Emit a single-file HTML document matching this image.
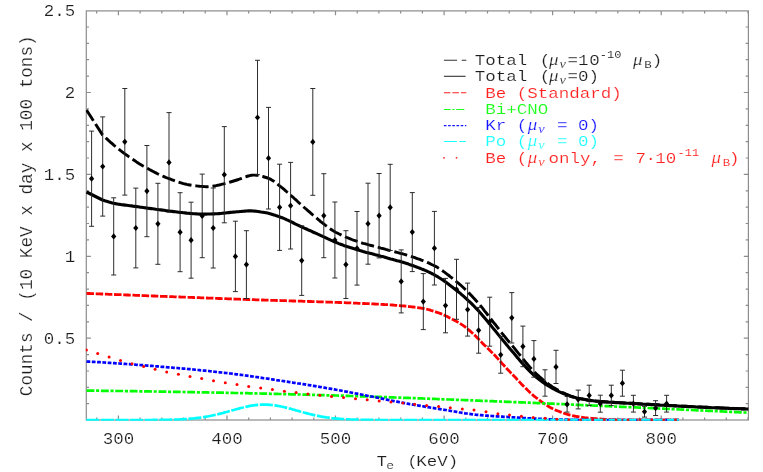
<!DOCTYPE html>
<html><head><meta charset="utf-8"><title>chart</title>
<style>html,body{margin:0;padding:0;background:#fff}svg{display:block}</style>
</head><body>
<svg width="763" height="472" viewBox="0 0 763 472">
<rect width="763" height="472" fill="#fff"/>
<g stroke="#8c8c8c" stroke-width="1.2" fill="none">
<rect x="86.3" y="10.9" width="662.1" height="409.1"/>
<path d="M96.7 420.0 v-2.6 M96.7 10.9 v2.6"/>
<path d="M118.4 420.0 v-4.4 M118.4 10.9 v4.4"/>
<path d="M140.1 420.0 v-2.6 M140.1 10.9 v2.6"/>
<path d="M161.8 420.0 v-2.6 M161.8 10.9 v2.6"/>
<path d="M183.5 420.0 v-2.6 M183.5 10.9 v2.6"/>
<path d="M205.2 420.0 v-2.6 M205.2 10.9 v2.6"/>
<path d="M227.0 420.0 v-4.4 M227.0 10.9 v4.4"/>
<path d="M248.7 420.0 v-2.6 M248.7 10.9 v2.6"/>
<path d="M270.4 420.0 v-2.6 M270.4 10.9 v2.6"/>
<path d="M292.1 420.0 v-2.6 M292.1 10.9 v2.6"/>
<path d="M313.8 420.0 v-2.6 M313.8 10.9 v2.6"/>
<path d="M335.5 420.0 v-4.4 M335.5 10.9 v4.4"/>
<path d="M357.2 420.0 v-2.6 M357.2 10.9 v2.6"/>
<path d="M378.9 420.0 v-2.6 M378.9 10.9 v2.6"/>
<path d="M400.7 420.0 v-2.6 M400.7 10.9 v2.6"/>
<path d="M422.4 420.0 v-2.6 M422.4 10.9 v2.6"/>
<path d="M444.1 420.0 v-4.4 M444.1 10.9 v4.4"/>
<path d="M465.8 420.0 v-2.6 M465.8 10.9 v2.6"/>
<path d="M487.5 420.0 v-2.6 M487.5 10.9 v2.6"/>
<path d="M509.2 420.0 v-2.6 M509.2 10.9 v2.6"/>
<path d="M530.9 420.0 v-2.6 M530.9 10.9 v2.6"/>
<path d="M552.6 420.0 v-4.4 M552.6 10.9 v4.4"/>
<path d="M574.4 420.0 v-2.6 M574.4 10.9 v2.6"/>
<path d="M596.1 420.0 v-2.6 M596.1 10.9 v2.6"/>
<path d="M617.8 420.0 v-2.6 M617.8 10.9 v2.6"/>
<path d="M639.5 420.0 v-2.6 M639.5 10.9 v2.6"/>
<path d="M661.2 420.0 v-4.4 M661.2 10.9 v4.4"/>
<path d="M682.9 420.0 v-2.6 M682.9 10.9 v2.6"/>
<path d="M704.6 420.0 v-2.6 M704.6 10.9 v2.6"/>
<path d="M726.3 420.0 v-2.6 M726.3 10.9 v2.6"/>
<path d="M748.0 420.0 v-2.6 M748.0 10.9 v2.6"/>
<path d="M86.3 403.7 h2.7 M748.4 403.7 h-2.7"/>
<path d="M86.3 387.3 h2.7 M748.4 387.3 h-2.7"/>
<path d="M86.3 371.0 h2.7 M748.4 371.0 h-2.7"/>
<path d="M86.3 354.6 h2.7 M748.4 354.6 h-2.7"/>
<path d="M86.3 338.2 h4.6 M748.4 338.2 h-4.6"/>
<path d="M86.3 321.8 h2.7 M748.4 321.8 h-2.7"/>
<path d="M86.3 305.4 h2.7 M748.4 305.4 h-2.7"/>
<path d="M86.3 289.1 h2.7 M748.4 289.1 h-2.7"/>
<path d="M86.3 272.7 h2.7 M748.4 272.7 h-2.7"/>
<path d="M86.3 256.3 h4.6 M748.4 256.3 h-4.6"/>
<path d="M86.3 239.9 h2.7 M748.4 239.9 h-2.7"/>
<path d="M86.3 223.5 h2.7 M748.4 223.5 h-2.7"/>
<path d="M86.3 207.2 h2.7 M748.4 207.2 h-2.7"/>
<path d="M86.3 190.8 h2.7 M748.4 190.8 h-2.7"/>
<path d="M86.3 174.4 h4.6 M748.4 174.4 h-4.6"/>
<path d="M86.3 158.0 h2.7 M748.4 158.0 h-2.7"/>
<path d="M86.3 141.6 h2.7 M748.4 141.6 h-2.7"/>
<path d="M86.3 125.3 h2.7 M748.4 125.3 h-2.7"/>
<path d="M86.3 108.9 h2.7 M748.4 108.9 h-2.7"/>
<path d="M86.3 92.5 h4.6 M748.4 92.5 h-4.6"/>
<path d="M86.3 76.1 h2.7 M748.4 76.1 h-2.7"/>
<path d="M86.3 59.7 h2.7 M748.4 59.7 h-2.7"/>
<path d="M86.3 43.4 h2.7 M748.4 43.4 h-2.7"/>
<path d="M86.3 27.0 h2.7 M748.4 27.0 h-2.7"/>
</g>
<defs><clipPath id="c"><rect x="85.8" y="10.9" width="663.1" height="409.9"/></clipPath></defs>
<g clip-path="url(#c)">
<path d="M86.5 110.0 L102.5 134.9 L104.1 136.4 L105.7 137.9 L107.4 139.4 L109.0 140.9 L110.6 142.3 L112.2 143.7 L113.8 145.1 L115.5 146.5 L117.1 147.8 L118.7 149.1 L120.3 150.4 L121.9 151.6 L123.5 152.9 L125.2 154.1 L126.8 155.2 L128.4 156.4 L130.0 157.5 L131.6 158.6 L133.3 159.7 L134.9 160.8 L136.5 161.9 L138.1 162.9 L139.7 163.9 L141.4 164.9 L143.0 165.9 L144.6 166.8 L146.2 167.7 L147.8 168.6 L149.4 169.5 L151.1 170.4 L152.7 171.2 L154.3 172.1 L155.9 172.9 L157.5 173.7 L159.2 174.5 L160.8 175.2 L162.4 176.0 L164.0 176.7 L165.6 177.4 L167.3 178.0 L168.9 178.6 L170.5 179.2 L172.1 179.8 L173.7 180.4 L175.3 181.0 L177.0 181.5 L178.6 182.1 L180.2 182.6 L181.8 183.1 L183.4 183.6 L185.1 184.0 L186.7 184.4 L188.3 184.7 L189.9 185.0 L191.5 185.3 L193.2 185.5 L194.8 185.7 L196.4 185.9 L198.0 186.1 L199.6 186.3 L201.2 186.4 L202.9 186.5 L204.5 186.6 L206.1 186.7 L207.7 186.7 L209.3 186.6 L211.0 186.5 L212.6 186.3 L214.2 186.0 L215.8 185.7 L217.4 185.3 L219.1 185.0 L220.7 184.6 L222.3 184.2 L223.9 183.8 L225.5 183.4 L227.1 183.0 L228.8 182.5 L230.4 182.0 L232.0 181.5 L233.6 181.0 L235.2 180.5 L236.9 180.0 L238.5 179.5 L240.1 178.9 L241.7 178.3 L243.3 177.7 L245.0 177.0 L246.6 176.5 L248.2 176.0 L249.8 175.6 L251.4 175.3 L253.0 175.1 L254.7 175.1 L256.3 175.2 L257.9 175.4 L259.5 175.7 L261.1 176.1 L262.8 176.5 L264.4 177.0 L266.0 177.5 L267.6 178.0 L269.2 178.6 L270.9 179.4 L272.5 180.4 L274.1 181.5 L275.7 182.8 L277.3 184.1 L278.9 185.3 L280.6 186.6 L282.2 187.9 L283.8 189.2 L285.4 190.6 L287.0 192.0 L288.7 193.4 L290.3 194.9 L291.9 196.3 L293.5 197.7 L295.1 199.2 L296.8 200.7 L298.4 202.2 L300.0 203.7 L301.6 205.1 L303.2 206.5 L304.8 208.0 L306.5 209.4 L308.1 210.8 L309.7 212.2 L311.3 213.6 L312.9 215.0 L314.6 216.4 L316.2 217.7 L317.8 219.1 L319.4 220.5 L321.0 221.8 L322.7 223.1 L324.3 224.3 L325.9 225.6 L327.5 226.8 L329.1 228.0 L330.8 229.2 L332.4 230.3 L334.0 231.3 L335.6 232.2 L337.2 233.0 L338.8 233.8 L340.5 234.6 L342.1 235.4 L343.7 236.1 L345.3 236.9 L346.9 237.5 L348.6 238.2 L350.2 238.8 L351.8 239.5 L353.4 240.1 L355.0 240.6 L356.7 241.2 L358.3 241.8 L359.9 242.3 L361.5 242.8 L363.1 243.3 L364.7 243.7 L366.4 244.2 L368.0 244.7 L369.6 245.1 L371.2 245.5 L372.8 245.9 L374.5 246.4 L376.1 246.8 L377.7 247.2 L379.3 247.6 L380.9 248.1 L382.6 248.5 L384.2 248.9 L385.8 249.4 L387.4 249.8 L389.0 250.3 L390.6 250.7 L392.3 251.1 L393.9 251.6 L395.5 252.0 L397.1 252.4 L398.7 252.8 L400.4 253.3 L402.0 253.7 L403.6 254.2 L405.2 254.6 L406.8 255.1 L408.5 255.6 L410.1 256.1 L411.7 256.6 L413.3 257.2 L414.9 257.7 L416.5 258.3 L418.2 258.9 L419.8 259.4 L421.4 260.1 L423.0 260.7 L424.6 261.3 L426.3 262.0 L427.9 262.7 L429.5 263.4 L431.1 264.2 L432.7 265.0 L434.4 265.8 L436.0 266.6 L437.6 267.6 L439.2 268.6 L440.8 269.6 L442.4 270.7 L444.1 271.9 L445.7 273.1 L447.3 274.3 L448.9 275.5 L450.5 276.8 L452.2 278.1 L453.8 279.4 L455.4 280.7 L457.0 282.1 L458.6 283.4 L460.3 284.8 L461.9 286.3 L463.5 287.8 L465.1 289.3 L466.7 290.8 L468.3 292.4 L470.0 294.1 L471.6 295.7 L473.2 297.5 L474.8 299.2 L476.4 301.0 L478.1 302.8 L479.7 304.7 L481.3 306.7 L482.9 308.7 L484.5 310.8 L486.2 312.9 L487.8 315.0 L489.4 317.1 L491.0 319.1 L492.6 321.2 L494.2 323.3 L495.9 325.3 L497.5 327.4 L499.1 329.5 L500.7 331.5 L502.3 333.6 L504.0 335.6 L505.6 337.6 L507.2 339.6 L508.8 341.5 L510.4 343.5 L512.1 345.4 L513.7 347.4 L515.3 349.4 L516.9 351.4 L518.5 353.4 L520.1 355.3 L521.8 357.3 L523.4 359.3 L525.0 361.3 L526.6 363.3 L528.2 365.2 L529.9 367.2 L531.5 369.0 L533.1 370.7 L534.7 372.3 L536.3 373.8 L538.0 375.3 L539.6 376.8 L541.2 378.2 L542.8 379.6 L544.4 381.0 L546.1 382.3 L547.7 383.5 L549.3 384.7 L550.9 385.8 L552.5 386.9 L554.1 387.9 L555.8 388.8 L557.4 389.7 L559.0 390.6 L560.6 391.4 L562.2 392.3 L563.9 393.0 L565.5 393.8 L567.1 394.5 L568.7 395.2 L570.3 395.8 L572.0 396.3 L573.6 396.8 L575.2 397.3 L576.8 397.7 L578.4 398.1 L580.0 398.4 L581.7 398.8 L583.3 399.1 L584.9 399.4 L586.5 399.7 L588.1 400.0 L589.8 400.2 L591.4 400.4 L593.0 400.6 L594.6 400.8 L596.2 401.0 L597.9 401.1 L599.5 401.3 L601.1 401.4 L602.7 401.5 L604.3 401.7 L605.9 401.8 L607.6 401.9 L609.2 402.0 L610.8 402.1 L612.4 402.2 L614.0 402.3 L615.7 402.4 L617.3 402.5 L618.9 402.6 L620.5 402.7 L622.1 402.8 L623.8 402.9 L625.4 402.9 L627.0 403.0 L628.6 403.1 L630.2 403.2 L631.8 403.3 L633.5 403.4 L635.1 403.5 L636.7 403.6 L638.3 403.7 L639.9 403.8 L641.6 403.9 L643.2 404.0 L644.8 404.1 L646.4 404.2 L648.0 404.2 L649.7 404.3 L651.3 404.4 L652.9 404.5 L654.5 404.6 L656.1 404.7 L657.7 404.8 L659.4 404.9 L661.0 405.0 L662.6 405.1 L664.2 405.1 L665.8 405.2 L667.5 405.3 L669.1 405.4 L670.7 405.5 L672.3 405.6 L673.9 405.7 L675.6 405.7 L677.2 405.8 L678.8 405.9 L680.4 406.0 L682.0 406.1 L683.6 406.2 L685.3 406.2 L686.9 406.3 L688.5 406.4 L690.1 406.5 L691.7 406.6 L693.4 406.6 L695.0 406.7 L696.6 406.8 L698.2 406.9 L699.8 406.9 L701.5 407.0 L703.1 407.1 L704.7 407.2 L706.3 407.2 L707.9 407.3 L709.5 407.4 L711.2 407.5 L712.8 407.5 L714.4 407.6 L716.0 407.7 L717.6 407.7 L719.3 407.8 L720.9 407.9 L722.5 407.9 L724.1 408.0 L725.7 408.1 L727.4 408.1 L729.0 408.2 L730.6 408.3 L732.2 408.3 L733.8 408.4 L735.4 408.4 L737.1 408.5 L738.7 408.6 L740.3 408.6 L741.9 408.7 L743.5 408.7 L745.2 408.8 L746.8 408.8 L748.4 408.9" fill="none" stroke="#000" stroke-width="2.9" stroke-dasharray="13.3 3.9" stroke-dashoffset="0.5" stroke-linejoin="round"/>
<path d="M86.5 192.0 L102.5 200.0 L104.1 200.5 L105.7 201.1 L107.4 201.6 L109.0 202.1 L110.6 202.5 L112.2 202.9 L113.8 203.3 L115.5 203.6 L117.1 203.9 L118.7 204.2 L120.3 204.4 L121.9 204.7 L123.5 204.9 L125.2 205.1 L126.8 205.3 L128.4 205.5 L130.0 205.7 L131.6 205.9 L133.3 206.2 L134.9 206.4 L136.5 206.6 L138.1 206.8 L139.7 207.1 L141.4 207.3 L143.0 207.5 L144.6 207.7 L146.2 207.9 L147.8 208.2 L149.4 208.4 L151.1 208.6 L152.7 208.8 L154.3 209.0 L155.9 209.3 L157.5 209.5 L159.2 209.7 L160.8 209.9 L162.4 210.1 L164.0 210.3 L165.6 210.6 L167.3 210.8 L168.9 211.0 L170.5 211.2 L172.1 211.4 L173.7 211.6 L175.3 211.8 L177.0 212.0 L178.6 212.2 L180.2 212.4 L181.8 212.5 L183.4 212.7 L185.1 212.9 L186.7 213.1 L188.3 213.2 L189.9 213.4 L191.5 213.5 L193.2 213.7 L194.8 213.8 L196.4 213.9 L198.0 214.0 L199.6 214.1 L201.2 214.1 L202.9 214.1 L204.5 214.1 L206.1 214.1 L207.7 214.0 L209.3 214.0 L211.0 214.0 L212.6 213.9 L214.2 213.9 L215.8 213.8 L217.4 213.7 L219.1 213.6 L220.7 213.5 L222.3 213.3 L223.9 213.1 L225.5 213.0 L227.1 212.8 L228.8 212.6 L230.4 212.4 L232.0 212.3 L233.6 212.1 L235.2 212.0 L236.9 211.8 L238.5 211.7 L240.1 211.5 L241.7 211.4 L243.3 211.2 L245.0 211.1 L246.6 211.0 L248.2 210.9 L249.8 210.9 L251.4 210.9 L253.0 211.0 L254.7 211.1 L256.3 211.3 L257.9 211.5 L259.5 211.7 L261.1 212.0 L262.8 212.2 L264.4 212.5 L266.0 212.8 L267.6 213.1 L269.2 213.5 L270.9 213.9 L272.5 214.4 L274.1 214.9 L275.7 215.5 L277.3 216.0 L278.9 216.6 L280.6 217.2 L282.2 217.8 L283.8 218.4 L285.4 219.1 L287.0 219.9 L288.7 220.6 L290.3 221.4 L291.9 222.2 L293.5 223.0 L295.1 223.8 L296.8 224.6 L298.4 225.3 L300.0 226.1 L301.6 226.9 L303.2 227.6 L304.8 228.3 L306.5 229.0 L308.1 229.8 L309.7 230.5 L311.3 231.2 L312.9 232.0 L314.6 232.7 L316.2 233.4 L317.8 234.2 L319.4 234.9 L321.0 235.6 L322.7 236.4 L324.3 237.1 L325.9 237.9 L327.5 238.7 L329.1 239.4 L330.8 240.2 L332.4 240.9 L334.0 241.6 L335.6 242.3 L337.2 242.9 L338.8 243.6 L340.5 244.2 L342.1 244.8 L343.7 245.4 L345.3 245.9 L346.9 246.5 L348.6 247.0 L350.2 247.6 L351.8 248.1 L353.4 248.6 L355.0 249.1 L356.7 249.6 L358.3 250.1 L359.9 250.6 L361.5 251.0 L363.1 251.5 L364.7 251.9 L366.4 252.4 L368.0 252.8 L369.6 253.2 L371.2 253.6 L372.8 254.0 L374.5 254.5 L376.1 254.9 L377.7 255.3 L379.3 255.7 L380.9 256.2 L382.6 256.6 L384.2 257.0 L385.8 257.5 L387.4 258.0 L389.0 258.4 L390.6 258.9 L392.3 259.3 L393.9 259.8 L395.5 260.2 L397.1 260.7 L398.7 261.1 L400.4 261.6 L402.0 262.1 L403.6 262.6 L405.2 263.1 L406.8 263.6 L408.5 264.1 L410.1 264.7 L411.7 265.2 L413.3 265.8 L414.9 266.4 L416.5 267.0 L418.2 267.6 L419.8 268.2 L421.4 268.9 L423.0 269.5 L424.6 270.2 L426.3 270.9 L427.9 271.7 L429.5 272.4 L431.1 273.2 L432.7 274.0 L434.4 274.9 L436.0 275.8 L437.6 276.7 L439.2 277.7 L440.8 278.7 L442.4 279.8 L444.1 280.9 L445.7 282.1 L447.3 283.3 L448.9 284.5 L450.5 285.7 L452.2 287.0 L453.8 288.2 L455.4 289.5 L457.0 290.7 L458.6 292.0 L460.3 293.4 L461.9 294.8 L463.5 296.2 L465.1 297.6 L466.7 299.1 L468.3 300.6 L470.0 302.1 L471.6 303.7 L473.2 305.3 L474.8 307.0 L476.4 308.7 L478.1 310.4 L479.7 312.2 L481.3 314.0 L482.9 315.9 L484.5 317.8 L486.2 319.8 L487.8 321.7 L489.4 323.7 L491.0 325.6 L492.6 327.6 L494.2 329.6 L495.9 331.6 L497.5 333.6 L499.1 335.6 L500.7 337.6 L502.3 339.6 L504.0 341.6 L505.6 343.5 L507.2 345.4 L508.8 347.4 L510.4 349.3 L512.1 351.2 L513.7 353.1 L515.3 355.0 L516.9 356.9 L518.5 358.8 L520.1 360.7 L521.8 362.6 L523.4 364.4 L525.0 366.1 L526.6 367.9 L528.2 369.6 L529.9 371.3 L531.5 372.9 L533.1 374.5 L534.7 375.9 L536.3 377.2 L538.0 378.5 L539.6 379.8 L541.2 381.0 L542.8 382.2 L544.4 383.3 L546.1 384.4 L547.7 385.5 L549.3 386.5 L550.9 387.4 L552.5 388.3 L554.1 389.2 L555.8 390.0 L557.4 390.8 L559.0 391.6 L560.6 392.3 L562.2 393.0 L563.9 393.7 L565.5 394.4 L567.1 395.0 L568.7 395.6 L570.3 396.2 L572.0 396.7 L573.6 397.2 L575.2 397.6 L576.8 398.0 L578.4 398.3 L580.0 398.7 L581.7 399.0 L583.3 399.3 L584.9 399.6 L586.5 399.9 L588.1 400.2 L589.8 400.4 L591.4 400.6 L593.0 400.8 L594.6 401.0 L596.2 401.2 L597.9 401.3 L599.5 401.5 L601.1 401.6 L602.7 401.7 L604.3 401.9 L605.9 402.0 L607.6 402.1 L609.2 402.2 L610.8 402.3 L612.4 402.4 L614.0 402.5 L615.7 402.6 L617.3 402.7 L618.9 402.8 L620.5 402.9 L622.1 403.0 L623.8 403.1 L625.4 403.1 L627.0 403.2 L628.6 403.3 L630.2 403.4 L631.8 403.5 L633.5 403.6 L635.1 403.7 L636.7 403.8 L638.3 403.9 L639.9 404.0 L641.6 404.1 L643.2 404.2 L644.8 404.3 L646.4 404.4 L648.0 404.4 L649.7 404.5 L651.3 404.6 L652.9 404.7 L654.5 404.8 L656.1 404.9 L657.7 405.0 L659.4 405.1 L661.0 405.2 L662.6 405.3 L664.2 405.3 L665.8 405.4 L667.5 405.5 L669.1 405.6 L670.7 405.7 L672.3 405.8 L673.9 405.9 L675.6 405.9 L677.2 406.0 L678.8 406.1 L680.4 406.2 L682.0 406.3 L683.6 406.4 L685.3 406.4 L686.9 406.5 L688.5 406.6 L690.1 406.7 L691.7 406.8 L693.4 406.8 L695.0 406.9 L696.6 407.0 L698.2 407.1 L699.8 407.1 L701.5 407.2 L703.1 407.3 L704.7 407.4 L706.3 407.4 L707.9 407.5 L709.5 407.6 L711.2 407.7 L712.8 407.7 L714.4 407.8 L716.0 407.9 L717.6 407.9 L719.3 408.0 L720.9 408.1 L722.5 408.1 L724.1 408.2 L725.7 408.3 L727.4 408.3 L729.0 408.4 L730.6 408.5 L732.2 408.5 L733.8 408.6 L735.4 408.6 L737.1 408.7 L738.7 408.8 L740.3 408.8 L741.9 408.9 L743.5 408.9 L745.2 409.0 L746.8 409.0 L748.4 409.1" fill="none" stroke="#000" stroke-width="3.1" stroke-linejoin="round"/>
<path d="M86.5 293.4 L88.0 293.5 L89.5 293.5 L91.0 293.6 L92.4 293.6 L93.9 293.7 L95.4 293.7 L96.9 293.8 L98.4 293.9 L99.9 293.9 L101.3 294.0 L102.8 294.0 L104.3 294.1 L105.8 294.1 L107.3 294.2 L108.8 294.3 L110.3 294.3 L111.7 294.4 L113.2 294.4 L114.7 294.5 L116.2 294.6 L117.7 294.6 L119.2 294.7 L120.7 294.7 L122.1 294.8 L123.6 294.8 L125.1 294.9 L126.6 295.0 L128.1 295.0 L129.6 295.1 L131.0 295.1 L132.5 295.2 L134.0 295.2 L135.5 295.3 L137.0 295.4 L138.5 295.4 L140.0 295.5 L141.4 295.5 L142.9 295.6 L144.4 295.6 L145.9 295.7 L147.4 295.8 L148.9 295.8 L150.4 295.9 L151.8 295.9 L153.3 296.0 L154.8 296.0 L156.3 296.1 L157.8 296.1 L159.3 296.2 L160.7 296.3 L162.2 296.3 L163.7 296.4 L165.2 296.4 L166.7 296.5 L168.2 296.5 L169.7 296.6 L171.1 296.7 L172.6 296.7 L174.1 296.8 L175.6 296.8 L177.1 296.9 L178.6 296.9 L180.1 297.0 L181.5 297.1 L183.0 297.1 L184.5 297.2 L186.0 297.2 L187.5 297.3 L189.0 297.3 L190.4 297.4 L191.9 297.4 L193.4 297.5 L194.9 297.6 L196.4 297.6 L197.9 297.7 L199.4 297.7 L200.8 297.8 L202.3 297.8 L203.8 297.9 L205.3 297.9 L206.8 298.0 L208.3 298.1 L209.8 298.1 L211.2 298.2 L212.7 298.2 L214.2 298.3 L215.7 298.3 L217.2 298.4 L218.7 298.5 L220.1 298.5 L221.6 298.6 L223.1 298.6 L224.6 298.7 L226.1 298.7 L227.6 298.8 L229.1 298.8 L230.5 298.9 L232.0 299.0 L233.5 299.0 L235.0 299.1 L236.5 299.1 L238.0 299.2 L239.5 299.2 L240.9 299.3 L242.4 299.3 L243.9 299.4 L245.4 299.4 L246.9 299.5 L248.4 299.5 L249.8 299.6 L251.3 299.6 L252.8 299.7 L254.3 299.7 L255.8 299.8 L257.3 299.8 L258.8 299.9 L260.2 299.9 L261.7 300.0 L263.2 300.0 L264.7 300.1 L266.2 300.1 L267.7 300.2 L269.2 300.2 L270.6 300.3 L272.1 300.3 L273.6 300.4 L275.1 300.4 L276.6 300.5 L278.1 300.5 L279.5 300.5 L281.0 300.6 L282.5 300.6 L284.0 300.7 L285.5 300.7 L287.0 300.8 L288.5 300.8 L289.9 300.9 L291.4 300.9 L292.9 301.0 L294.4 301.0 L295.9 301.1 L297.4 301.1 L298.8 301.1 L300.3 301.2 L301.8 301.2 L303.3 301.3 L304.8 301.3 L306.3 301.4 L307.8 301.4 L309.2 301.5 L310.7 301.5 L312.2 301.6 L313.7 301.6 L315.2 301.7 L316.7 301.7 L318.2 301.8 L319.6 301.8 L321.1 301.9 L322.6 301.9 L324.1 302.0 L325.6 302.0 L327.1 302.1 L328.5 302.1 L330.0 302.2 L331.5 302.2 L333.0 302.3 L334.5 302.3 L336.0 302.4 L337.5 302.4 L338.9 302.5 L340.4 302.5 L341.9 302.6 L343.4 302.7 L344.9 302.7 L346.4 302.8 L347.9 302.8 L349.3 302.9 L350.8 302.9 L352.3 303.0 L353.8 303.1 L355.3 303.1 L356.8 303.2 L358.2 303.3 L359.7 303.3 L361.2 303.4 L362.7 303.5 L364.2 303.5 L365.7 303.6 L367.2 303.7 L368.6 303.7 L370.1 303.8 L371.6 303.9 L373.1 303.9 L374.6 304.0 L376.1 304.1 L377.6 304.2 L379.0 304.2 L380.5 304.3 L382.0 304.4 L383.5 304.5 L385.0 304.6 L386.5 304.6 L387.9 304.7 L389.4 304.8 L390.9 304.9 L392.4 305.0 L393.9 305.1 L395.4 305.3 L396.9 305.4 L398.3 305.5 L399.8 305.6 L401.3 305.8 L402.8 305.9 L404.3 306.0 L405.8 306.2 L407.3 306.3 L408.7 306.5 L410.2 306.6 L411.7 306.8 L413.2 307.0 L414.7 307.2 L416.2 307.4 L417.6 307.6 L419.1 307.8 L420.6 308.0 L422.1 308.3 L423.6 308.5 L425.1 308.8 L426.6 309.1 L428.0 309.5 L429.5 309.9 L431.0 310.4 L432.5 310.8 L434.0 311.3 L435.5 311.8 L437.0 312.3 L438.4 312.8 L439.9 313.3 L441.4 313.9 L442.9 314.5 L444.4 315.2 L445.9 315.9 L447.3 316.6 L448.8 317.4 L450.3 318.2 L451.8 318.9 L453.3 319.7 L454.8 320.5 L456.3 321.3 L457.7 322.1 L459.2 323.0 L460.7 323.9 L462.2 324.9 L463.7 325.9 L465.2 327.0 L466.7 328.1 L468.1 329.4 L469.6 330.6 L471.1 332.0 L472.6 333.3 L474.1 334.7 L475.6 336.1 L477.0 337.5 L478.5 339.0 L480.0 340.6 L481.5 342.1 L483.0 343.7 L484.5 345.2 L486.0 346.6 L487.4 348.1 L488.9 349.5 L490.4 351.0 L491.9 352.4 L493.4 353.9 L494.9 355.4 L496.3 357.0 L497.8 358.6 L499.3 360.3 L500.8 362.0 L502.3 363.7 L503.8 365.3 L505.3 366.9 L506.7 368.5 L508.2 370.1 L509.7 371.6 L511.2 373.2 L512.7 374.7 L514.2 376.3 L515.7 377.8 L517.1 379.4 L518.6 381.0 L520.1 382.6 L521.6 384.2 L523.1 385.7 L524.6 387.2 L526.0 388.6 L527.5 390.1 L529.0 391.5 L530.5 393.0 L532.0 394.3 L533.5 395.6 L535.0 396.8 L536.4 398.0 L537.9 399.1 L539.4 400.2 L540.9 401.3 L542.4 402.4 L543.9 403.4 L545.4 404.4 L546.8 405.4 L548.3 406.3 L549.8 407.2 L551.3 408.0 L552.8 408.8 L554.3 409.5 L555.7 410.1 L557.2 410.7 L558.7 411.3 L560.2 411.9 L561.7 412.4 L563.2 413.0 L564.7 413.5 L566.1 414.0 L567.6 414.4 L569.1 414.8 L570.6 415.2 L572.1 415.6 L573.6 415.9 L575.1 416.2 L576.5 416.5 L578.0 416.7 L579.5 416.9 L581.0 417.2 L582.5 417.4 L584.0 417.6 L585.4 417.8 L586.9 417.9 L588.4 418.1 L589.9 418.2 L591.4 418.4 L592.9 418.5 L594.4 418.6 L595.8 418.7 L597.3 418.8 L598.8 418.9 L600.3 419.0 L601.8 419.1 L603.3 419.2 L604.8 419.3 L606.2 419.4 L607.7 419.4 L609.2 419.5 L610.7 419.6 L612.2 419.6 L613.7 419.7 L615.1 419.7 L616.6 419.8 L618.1 419.8 L619.6 419.8 L621.1 419.8 L622.6 419.8 L624.1 419.8 L625.5 419.8 L627.0 419.8 L628.5 419.9 L630.0 419.9 L631.5 419.9 L633.0 419.9 L634.5 419.9 L635.9 419.9 L637.4 419.9 L638.9 419.9 L640.4 419.9 L641.9 419.9 L643.4 419.9 L644.8 419.9 L646.3 419.9 L647.8 419.9 L649.3 420.0 L650.8 420.0 L652.3 420.0 L653.8 420.0 L655.2 420.0 L656.7 420.0 L658.2 420.0 L659.7 420.0 L661.2 420.0 L662.7 420.0 L664.2 420.0 L665.6 420.0 L667.1 420.0 L668.6 420.0 L670.1 420.0 L671.6 420.0 L673.1 420.0 L674.5 420.0 L676.0 420.0 L677.5 420.0 L679.0 420.0" fill="none" stroke="#ff0000" stroke-width="2.8" stroke-dasharray="7.5 1.7"/>
<path d="M86.5 390.6 L88.2 390.6 L89.8 390.6 L91.5 390.7 L93.1 390.7 L94.8 390.7 L96.5 390.7 L98.1 390.7 L99.8 390.7 L101.4 390.8 L103.1 390.8 L104.7 390.8 L106.4 390.8 L108.1 390.9 L109.7 390.9 L111.4 390.9 L113.0 390.9 L114.7 390.9 L116.4 391.0 L118.0 391.0 L119.7 391.0 L121.3 391.0 L123.0 391.0 L124.7 391.1 L126.3 391.1 L128.0 391.1 L129.6 391.1 L131.3 391.2 L132.9 391.2 L134.6 391.2 L136.3 391.2 L137.9 391.3 L139.6 391.3 L141.2 391.3 L142.9 391.3 L144.6 391.4 L146.2 391.4 L147.9 391.4 L149.5 391.4 L151.2 391.5 L152.9 391.5 L154.5 391.5 L156.2 391.5 L157.8 391.6 L159.5 391.6 L161.2 391.6 L162.8 391.7 L164.5 391.7 L166.1 391.7 L167.8 391.7 L169.4 391.8 L171.1 391.8 L172.8 391.8 L174.4 391.8 L176.1 391.9 L177.7 391.9 L179.4 391.9 L181.1 392.0 L182.7 392.0 L184.4 392.0 L186.0 392.1 L187.7 392.1 L189.4 392.1 L191.0 392.1 L192.7 392.2 L194.3 392.2 L196.0 392.2 L197.6 392.3 L199.3 392.3 L201.0 392.3 L202.6 392.4 L204.3 392.4 L205.9 392.4 L207.6 392.4 L209.3 392.5 L210.9 392.5 L212.6 392.5 L214.2 392.6 L215.9 392.6 L217.6 392.6 L219.2 392.7 L220.9 392.7 L222.5 392.7 L224.2 392.8 L225.8 392.8 L227.5 392.8 L229.2 392.9 L230.8 392.9 L232.5 392.9 L234.1 393.0 L235.8 393.0 L237.5 393.0 L239.1 393.1 L240.8 393.1 L242.4 393.1 L244.1 393.2 L245.8 393.2 L247.4 393.2 L249.1 393.3 L250.7 393.3 L252.4 393.3 L254.0 393.4 L255.7 393.4 L257.4 393.5 L259.0 393.5 L260.7 393.5 L262.3 393.6 L264.0 393.6 L265.7 393.6 L267.3 393.7 L269.0 393.7 L270.6 393.8 L272.3 393.8 L274.0 393.8 L275.6 393.9 L277.3 393.9 L278.9 394.0 L280.6 394.0 L282.2 394.0 L283.9 394.1 L285.6 394.1 L287.2 394.2 L288.9 394.2 L290.5 394.3 L292.2 394.3 L293.9 394.3 L295.5 394.4 L297.2 394.4 L298.8 394.5 L300.5 394.5 L302.2 394.6 L303.8 394.6 L305.5 394.7 L307.1 394.7 L308.8 394.7 L310.5 394.8 L312.1 394.8 L313.8 394.9 L315.4 394.9 L317.1 395.0 L318.7 395.0 L320.4 395.1 L322.1 395.1 L323.7 395.2 L325.4 395.2 L327.0 395.3 L328.7 395.3 L330.4 395.4 L332.0 395.4 L333.7 395.4 L335.3 395.5 L337.0 395.5 L338.7 395.6 L340.3 395.6 L342.0 395.7 L343.6 395.7 L345.3 395.8 L346.9 395.8 L348.6 395.9 L350.3 396.0 L351.9 396.0 L353.6 396.1 L355.2 396.1 L356.9 396.2 L358.6 396.2 L360.2 396.3 L361.9 396.3 L363.5 396.4 L365.2 396.4 L366.9 396.5 L368.5 396.5 L370.2 396.6 L371.8 396.7 L373.5 396.7 L375.1 396.8 L376.8 396.8 L378.5 396.9 L380.1 396.9 L381.8 397.0 L383.4 397.1 L385.1 397.1 L386.8 397.2 L388.4 397.2 L390.1 397.3 L391.7 397.3 L393.4 397.4 L395.1 397.5 L396.7 397.5 L398.4 397.6 L400.0 397.6 L401.7 397.7 L403.3 397.8 L405.0 397.8 L406.7 397.9 L408.3 397.9 L410.0 398.0 L411.6 398.1 L413.3 398.1 L415.0 398.2 L416.6 398.3 L418.3 398.3 L419.9 398.4 L421.6 398.4 L423.3 398.5 L424.9 398.6 L426.6 398.6 L428.2 398.7 L429.9 398.8 L431.6 398.8 L433.2 398.9 L434.9 398.9 L436.5 399.0 L438.2 399.1 L439.8 399.1 L441.5 399.2 L443.2 399.3 L444.8 399.3 L446.5 399.4 L448.1 399.5 L449.8 399.5 L451.5 399.6 L453.1 399.6 L454.8 399.7 L456.4 399.8 L458.1 399.8 L459.8 399.9 L461.4 400.0 L463.1 400.0 L464.7 400.1 L466.4 400.2 L468.0 400.2 L469.7 400.3 L471.4 400.4 L473.0 400.4 L474.7 400.5 L476.3 400.6 L478.0 400.6 L479.7 400.7 L481.3 400.8 L483.0 400.8 L484.6 400.9 L486.3 400.9 L488.0 401.0 L489.6 401.1 L491.3 401.1 L492.9 401.2 L494.6 401.3 L496.2 401.3 L497.9 401.4 L499.6 401.5 L501.2 401.6 L502.9 401.6 L504.5 401.7 L506.2 401.8 L507.9 401.8 L509.5 401.9 L511.2 402.0 L512.8 402.0 L514.5 402.1 L516.2 402.2 L517.8 402.2 L519.5 402.3 L521.1 402.4 L522.8 402.4 L524.4 402.5 L526.1 402.6 L527.8 402.7 L529.4 402.7 L531.1 402.8 L532.7 402.9 L534.4 402.9 L536.1 403.0 L537.7 403.1 L539.4 403.2 L541.0 403.2 L542.7 403.3 L544.4 403.4 L546.0 403.4 L547.7 403.5 L549.3 403.6 L551.0 403.7 L552.7 403.7 L554.3 403.8 L556.0 403.9 L557.6 404.0 L559.3 404.0 L560.9 404.1 L562.6 404.2 L564.3 404.2 L565.9 404.3 L567.6 404.4 L569.2 404.5 L570.9 404.5 L572.6 404.6 L574.2 404.7 L575.9 404.8 L577.5 404.8 L579.2 404.9 L580.9 405.0 L582.5 405.1 L584.2 405.1 L585.8 405.2 L587.5 405.3 L589.1 405.4 L590.8 405.4 L592.5 405.5 L594.1 405.6 L595.8 405.7 L597.4 405.7 L599.1 405.8 L600.8 405.9 L602.4 406.0 L604.1 406.0 L605.7 406.1 L607.4 406.2 L609.1 406.2 L610.7 406.3 L612.4 406.4 L614.0 406.5 L615.7 406.5 L617.3 406.6 L619.0 406.7 L620.7 406.8 L622.3 406.8 L624.0 406.9 L625.6 407.0 L627.3 407.1 L629.0 407.1 L630.6 407.2 L632.3 407.3 L633.9 407.4 L635.6 407.4 L637.3 407.5 L638.9 407.6 L640.6 407.7 L642.2 407.7 L643.9 407.8 L645.5 407.9 L647.2 408.0 L648.9 408.0 L650.5 408.1 L652.2 408.2 L653.8 408.3 L655.5 408.3 L657.2 408.4 L658.8 408.5 L660.5 408.6 L662.1 408.6 L663.8 408.7 L665.5 408.8 L667.1 408.9 L668.8 409.0 L670.4 409.0 L672.1 409.1 L673.7 409.2 L675.4 409.3 L677.1 409.3 L678.7 409.4 L680.4 409.5 L682.0 409.6 L683.7 409.6 L685.4 409.7 L687.0 409.8 L688.7 409.9 L690.3 410.0 L692.0 410.0 L693.7 410.1 L695.3 410.2 L697.0 410.3 L698.6 410.3 L700.3 410.4 L702.0 410.5 L703.6 410.6 L705.3 410.7 L706.9 410.7 L708.6 410.8 L710.2 410.9 L711.9 411.0 L713.6 411.0 L715.2 411.1 L716.9 411.2 L718.5 411.3 L720.2 411.4 L721.9 411.4 L723.5 411.5 L725.2 411.6 L726.8 411.7 L728.5 411.7 L730.2 411.8 L731.8 411.9 L733.5 412.0 L735.1 412.1 L736.8 412.1 L738.4 412.2 L740.1 412.3 L741.8 412.4 L743.4 412.5 L745.1 412.5 L746.7 412.6 L748.4 412.7" fill="none" stroke="#00ff00" stroke-width="2.7" stroke-dasharray="7.9 1.7 3.1 1.7"/>
<path d="M86.5 361.5 L88.0 361.6 L89.5 361.7 L91.0 361.7 L92.4 361.8 L93.9 361.9 L95.4 362.0 L96.9 362.1 L98.4 362.2 L99.9 362.2 L101.3 362.3 L102.8 362.4 L104.3 362.5 L105.8 362.6 L107.3 362.7 L108.8 362.8 L110.3 362.9 L111.7 363.0 L113.2 363.1 L114.7 363.2 L116.2 363.3 L117.7 363.4 L119.2 363.5 L120.7 363.6 L122.1 363.7 L123.6 363.8 L125.1 363.9 L126.6 364.0 L128.1 364.1 L129.6 364.2 L131.0 364.3 L132.5 364.4 L134.0 364.5 L135.5 364.7 L137.0 364.8 L138.5 364.9 L140.0 365.0 L141.4 365.1 L142.9 365.2 L144.4 365.3 L145.9 365.5 L147.4 365.6 L148.9 365.7 L150.4 365.8 L151.8 365.9 L153.3 366.0 L154.8 366.2 L156.3 366.3 L157.8 366.4 L159.3 366.5 L160.7 366.7 L162.2 366.8 L163.7 366.9 L165.2 367.0 L166.7 367.2 L168.2 367.3 L169.7 367.4 L171.1 367.5 L172.6 367.7 L174.1 367.8 L175.6 367.9 L177.1 368.0 L178.6 368.2 L180.1 368.3 L181.5 368.4 L183.0 368.6 L184.5 368.7 L186.0 368.8 L187.5 369.0 L189.0 369.1 L190.4 369.2 L191.9 369.4 L193.4 369.5 L194.9 369.7 L196.4 369.8 L197.9 370.0 L199.4 370.1 L200.8 370.3 L202.3 370.4 L203.8 370.6 L205.3 370.7 L206.8 370.9 L208.3 371.0 L209.8 371.2 L211.2 371.3 L212.7 371.5 L214.2 371.7 L215.7 371.8 L217.2 372.0 L218.7 372.2 L220.1 372.3 L221.6 372.5 L223.1 372.7 L224.6 372.8 L226.1 373.0 L227.6 373.2 L229.1 373.4 L230.5 373.5 L232.0 373.7 L233.5 373.9 L235.0 374.1 L236.5 374.3 L238.0 374.4 L239.5 374.6 L240.9 374.8 L242.4 375.0 L243.9 375.2 L245.4 375.5 L246.9 375.7 L248.4 375.9 L249.8 376.1 L251.3 376.3 L252.8 376.5 L254.3 376.8 L255.8 377.0 L257.3 377.2 L258.8 377.4 L260.2 377.6 L261.7 377.8 L263.2 378.1 L264.7 378.3 L266.2 378.5 L267.7 378.7 L269.2 378.9 L270.6 379.2 L272.1 379.4 L273.6 379.6 L275.1 379.8 L276.6 380.1 L278.1 380.3 L279.5 380.5 L281.0 380.7 L282.5 381.0 L284.0 381.2 L285.5 381.4 L287.0 381.6 L288.5 381.9 L289.9 382.1 L291.4 382.3 L292.9 382.6 L294.4 382.8 L295.9 383.0 L297.4 383.3 L298.8 383.5 L300.3 383.7 L301.8 384.0 L303.3 384.2 L304.8 384.4 L306.3 384.7 L307.8 384.9 L309.2 385.2 L310.7 385.4 L312.2 385.7 L313.7 385.9 L315.2 386.1 L316.7 386.4 L318.2 386.6 L319.6 386.9 L321.1 387.1 L322.6 387.4 L324.1 387.6 L325.6 387.9 L327.1 388.1 L328.5 388.4 L330.0 388.7 L331.5 388.9 L333.0 389.2 L334.5 389.4 L336.0 389.7 L337.5 390.0 L338.9 390.2 L340.4 390.5 L341.9 390.8 L343.4 391.1 L344.9 391.4 L346.4 391.6 L347.9 391.9 L349.3 392.2 L350.8 392.5 L352.3 392.8 L353.8 393.1 L355.3 393.4 L356.8 393.6 L358.2 393.9 L359.7 394.2 L361.2 394.5 L362.7 394.8 L364.2 395.1 L365.7 395.4 L367.2 395.7 L368.6 396.0 L370.1 396.3 L371.6 396.5 L373.1 396.8 L374.6 397.1 L376.1 397.4 L377.6 397.7 L379.0 398.0 L380.5 398.3 L382.0 398.6 L383.5 398.9 L385.0 399.3 L386.5 399.6 L387.9 399.9 L389.4 400.2 L390.9 400.5 L392.4 400.8 L393.9 401.1 L395.4 401.4 L396.9 401.6 L398.3 401.9 L399.8 402.2 L401.3 402.5 L402.8 402.8 L404.3 403.1 L405.8 403.3 L407.3 403.6 L408.7 403.9 L410.2 404.2 L411.7 404.4 L413.2 404.7 L414.7 404.9 L416.2 405.2 L417.6 405.4 L419.1 405.7 L420.6 405.9 L422.1 406.2 L423.6 406.4 L425.1 406.7 L426.6 406.9 L428.0 407.2 L429.5 407.4 L431.0 407.7 L432.5 407.9 L434.0 408.1 L435.5 408.4 L437.0 408.6 L438.4 408.9 L439.9 409.1 L441.4 409.3 L442.9 409.6 L444.4 409.8 L445.9 410.0 L447.3 410.3 L448.8 410.5 L450.3 410.8 L451.8 411.0 L453.3 411.3 L454.8 411.5 L456.3 411.8 L457.7 412.0 L459.2 412.3 L460.7 412.5 L462.2 412.8 L463.7 413.0 L465.2 413.3 L466.7 413.5 L468.1 413.7 L469.6 413.9 L471.1 414.1 L472.6 414.3 L474.1 414.5 L475.6 414.7 L477.0 414.8 L478.5 414.9 L480.0 415.1 L481.5 415.2 L483.0 415.3 L484.5 415.5 L486.0 415.6 L487.4 415.7 L488.9 415.8 L490.4 415.9 L491.9 416.0 L493.4 416.1 L494.9 416.2 L496.3 416.3 L497.8 416.4 L499.3 416.5 L500.8 416.6 L502.3 416.7 L503.8 416.8 L505.3 416.9 L506.7 416.9 L508.2 417.0 L509.7 417.1 L511.2 417.2 L512.7 417.3 L514.2 417.4 L515.7 417.5 L517.1 417.6 L518.6 417.7 L520.1 417.8 L521.6 417.9 L523.1 418.0 L524.6 418.1 L526.0 418.2 L527.5 418.3 L529.0 418.3 L530.5 418.4 L532.0 418.5 L533.5 418.6 L535.0 418.7 L536.4 418.7 L537.9 418.8 L539.4 418.9 L540.9 418.9 L542.4 419.0 L543.9 419.1 L545.4 419.1 L546.8 419.2 L548.3 419.3 L549.8 419.3 L551.3 419.4 L552.8 419.4 L554.3 419.5 L555.7 419.5 L557.2 419.5 L558.7 419.6 L560.2 419.6 L561.7 419.6 L563.2 419.7 L564.7 419.7 L566.1 419.7 L567.6 419.7 L569.1 419.7 L570.6 419.8 L572.1 419.8 L573.6 419.8 L575.1 419.8 L576.5 419.8 L578.0 419.9 L579.5 419.9 L581.0 419.9 L582.5 419.9 L584.0 419.9 L585.4 419.9 L586.9 419.9 L588.4 420.0 L589.9 420.0 L591.4 420.0 L592.9 420.0 L594.4 420.0 L595.8 420.0 L597.3 420.0 L598.8 420.0 L600.3 420.0 L601.8 420.0 L603.3 420.0 L604.8 420.0 L606.2 420.0 L607.7 420.0 L609.2 420.0 L610.7 420.0 L612.2 420.0 L613.7 420.0 L615.1 420.0 L616.6 420.0 L618.1 420.0 L619.6 420.0 L621.1 420.0 L622.6 420.0 L624.1 420.0 L625.5 420.0 L627.0 420.0 L628.5 420.0 L630.0 420.0 L631.5 420.0 L633.0 420.0 L634.5 420.0 L635.9 420.0 L637.4 420.0 L638.9 420.0 L640.4 420.0 L641.9 420.0 L643.4 420.0 L644.8 420.0 L646.3 420.0 L647.8 420.0 L649.3 420.0 L650.8 420.0 L652.3 420.0 L653.8 420.0 L655.2 420.0 L656.7 420.0 L658.2 420.0 L659.7 420.0 L661.2 420.0 L662.7 420.0 L664.2 420.0 L665.6 420.0 L667.1 420.0 L668.6 420.0 L670.1 420.0 L671.6 420.0 L673.1 420.0 L674.5 420.0 L676.0 420.0 L677.5 420.0 L679.0 420.0" fill="none" stroke="#0000ff" stroke-width="2.7" stroke-dasharray="3.8 1.5"/>
<path d="M86.3 420.0 L87.5 420.0 L88.7 420.0 L89.9 420.0 L91.1 420.0 L92.2 420.0 L93.4 420.0 L94.6 420.0 L95.8 420.0 L97.0 420.0 L98.2 420.0 L99.4 420.0 L100.6 420.0 L101.7 420.0 L102.9 420.0 L104.1 420.0 L105.3 420.0 L106.5 420.0 L107.7 420.0 L108.9 420.0 L110.1 420.0 L111.2 420.0 L112.4 420.0 L113.6 420.0 L114.8 420.0 L116.0 420.0 L117.2 420.0 L118.4 420.0 L119.6 420.0 L120.7 420.0 L121.9 420.0 L123.1 420.0 L124.3 420.0 L125.5 420.0 L126.7 420.0 L127.9 420.0 L129.1 420.0 L130.2 420.0 L131.4 420.0 L132.6 420.0 L133.8 420.0 L135.0 420.0 L136.2 420.0 L137.4 420.0 L138.6 420.0 L139.7 420.0 L140.9 420.0 L142.1 420.0 L143.3 420.0 L144.5 420.0 L145.7 420.0 L146.9 420.0 L148.1 420.0 L149.3 420.0 L150.4 420.0 L151.6 420.0 L152.8 419.9 L154.0 419.9 L155.2 419.9 L156.4 419.9 L157.6 419.9 L158.8 419.9 L159.9 419.9 L161.1 419.9 L162.3 419.9 L163.5 419.9 L164.7 419.8 L165.9 419.8 L167.1 419.8 L168.3 419.8 L169.4 419.8 L170.6 419.7 L171.8 419.7 L173.0 419.7 L174.2 419.6 L175.4 419.6 L176.6 419.5 L177.8 419.5 L178.9 419.5 L180.1 419.4 L181.3 419.3 L182.5 419.3 L183.7 419.2 L184.9 419.1 L186.1 419.1 L187.3 419.0 L188.4 418.9 L189.6 418.8 L190.8 418.7 L192.0 418.6 L193.2 418.5 L194.4 418.4 L195.6 418.2 L196.8 418.1 L198.0 417.9 L199.1 417.8 L200.3 417.6 L201.5 417.5 L202.7 417.3 L203.9 417.1 L205.1 416.9 L206.3 416.7 L207.5 416.5 L208.6 416.3 L209.8 416.0 L211.0 415.8 L212.2 415.5 L213.4 415.3 L214.6 415.0 L215.8 414.8 L217.0 414.5 L218.1 414.2 L219.3 413.9 L220.5 413.6 L221.7 413.3 L222.9 413.0 L224.1 412.6 L225.3 412.3 L226.5 412.0 L227.6 411.7 L228.8 411.3 L230.0 411.0 L231.2 410.7 L232.4 410.3 L233.6 410.0 L234.8 409.7 L236.0 409.3 L237.1 409.0 L238.3 408.7 L239.5 408.4 L240.7 408.0 L241.9 407.7 L243.1 407.5 L244.3 407.2 L245.5 406.9 L246.6 406.6 L247.8 406.4 L249.0 406.1 L250.2 405.9 L251.4 405.7 L252.6 405.5 L253.8 405.3 L255.0 405.2 L256.2 405.1 L257.3 404.9 L258.5 404.8 L259.7 404.7 L260.9 404.7 L262.1 404.6 L263.3 404.6 L264.5 404.6 L265.7 404.6 L266.8 404.6 L268.0 404.7 L269.2 404.8 L270.4 404.9 L271.6 405.0 L272.8 405.1 L274.0 405.3 L275.2 405.4 L276.3 405.6 L277.5 405.8 L278.7 406.0 L279.9 406.2 L281.1 406.5 L282.3 406.7 L283.5 407.0 L284.7 407.3 L285.8 407.6 L287.0 407.9 L288.2 408.2 L289.4 408.5 L290.6 408.8 L291.8 409.1 L293.0 409.5 L294.2 409.8 L295.3 410.1 L296.5 410.5 L297.7 410.8 L298.9 411.1 L300.1 411.5 L301.3 411.8 L302.5 412.1 L303.7 412.5 L304.9 412.8 L306.0 413.1 L307.2 413.4 L308.4 413.7 L309.6 414.0 L310.8 414.3 L312.0 414.6 L313.2 414.9 L314.4 415.1 L315.5 415.4 L316.7 415.7 L317.9 415.9 L319.1 416.1 L320.3 416.4 L321.5 416.6 L322.7 416.8 L323.9 417.0 L325.0 417.2 L326.2 417.4 L327.4 417.5 L328.6 417.7 L329.8 417.9 L331.0 418.0 L332.2 418.2 L333.4 418.3 L334.5 418.4 L335.7 418.5 L336.9 418.6 L338.1 418.7 L339.3 418.8 L340.5 418.9 L341.7 419.0 L342.9 419.1 L344.0 419.2 L345.2 419.2 L346.4 419.3 L347.6 419.4 L348.8 419.4 L350.0 419.5 L351.2 419.5 L352.4 419.6 L353.5 419.6 L354.7 419.6 L355.9 419.7 L357.1 419.7 L358.3 419.7 L359.5 419.8 L360.7 419.8 L361.9 419.8 L363.1 419.8 L364.2 419.8 L365.4 419.9 L366.6 419.9 L367.8 419.9 L369.0 419.9 L370.2 419.9 L371.4 419.9 L372.6 419.9 L373.7 419.9 L374.9 419.9 L376.1 420.0 L377.3 420.0 L378.5 420.0 L379.7 420.0 L380.9 420.0 L382.1 420.0 L383.2 420.0 L384.4 420.0 L385.6 420.0 L386.8 420.0 L388.0 420.0 L389.2 420.0 L390.4 420.0 L391.6 420.0 L392.7 420.0 L393.9 420.0 L395.1 420.0 L396.3 420.0 L397.5 420.0 L398.7 420.0 L399.9 420.0 L401.1 420.0 L402.2 420.0 L403.4 420.0 L404.6 420.0 L405.8 420.0 L407.0 420.0 L408.2 420.0 L409.4 420.0 L410.6 420.0 L411.8 420.0 L412.9 420.0 L414.1 420.0 L415.3 420.0 L416.5 420.0 L417.7 420.0 L418.9 420.0 L420.1 420.0 L421.3 420.0 L422.4 420.0 L423.6 420.0 L424.8 420.0 L426.0 420.0 L427.2 420.0 L428.4 420.0 L429.6 420.0 L430.8 420.0 L431.9 420.0 L433.1 420.0 L434.3 420.0 L435.5 420.0 L436.7 420.0 L437.9 420.0 L439.1 420.0 L440.3 420.0 L441.4 420.0 L442.6 420.0 L443.8 420.0 L445.0 420.0 L446.2 420.0 L447.4 420.0 L448.6 420.0 L449.8 420.0 L450.9 420.0 L452.1 420.0 L453.3 420.0 L454.5 420.0 L455.7 420.0 L456.9 420.0 L458.1 420.0 L459.3 420.0 L460.4 420.0 L461.6 420.0 L462.8 420.0 L464.0 420.0 L465.2 420.0 L466.4 420.0 L467.6 420.0 L468.8 420.0 L470.0 420.0 L471.1 420.0 L472.3 420.0 L473.5 420.0 L474.7 420.0 L475.9 420.0 L477.1 420.0 L478.3 420.0 L479.5 420.0 L480.6 420.0 L481.8 420.0 L483.0 420.0 L484.2 420.0 L485.4 420.0 L486.6 420.0 L487.8 420.0 L489.0 420.0 L490.1 420.0 L491.3 420.0 L492.5 420.0 L493.7 420.0 L494.9 420.0 L496.1 420.0 L497.3 420.0 L498.5 420.0 L499.6 420.0 L500.8 420.0 L502.0 420.0 L503.2 420.0 L504.4 420.0 L505.6 420.0 L506.8 420.0 L508.0 420.0 L509.1 420.0 L510.3 420.0 L511.5 420.0 L512.7 420.0 L513.9 420.0 L515.1 420.0 L516.3 420.0 L517.5 420.0 L518.7 420.0 L519.8 420.0 L521.0 420.0 L522.2 420.0 L523.4 420.0 L524.6 420.0 L525.8 420.0 L527.0 420.0 L528.2 420.0 L529.3 420.0 L530.5 420.0 L531.7 420.0 L532.9 420.0 L534.1 420.0 L535.3 420.0 L536.5 420.0 L537.7 420.0 L538.8 420.0 L540.0 420.0 L541.2 420.0 L542.4 420.0 L543.6 420.0 L544.8 420.0 L546.0 420.0 L547.2 420.0 L548.3 420.0 L549.5 420.0 L550.7 420.0 L551.9 420.0 L553.1 420.0 L554.3 420.0 L555.5 420.0 L556.7 420.0 L557.8 420.0 L559.0 420.0 L560.2 420.0 L561.4 420.0 L562.6 420.0 L563.8 420.0 L565.0 420.0 L566.2 420.0 L567.3 420.0 L568.5 420.0 L569.7 420.0 L570.9 420.0 L572.1 420.0 L573.3 420.0 L574.5 420.0 L575.7 420.0 L576.9 420.0 L578.0 420.0 L579.2 420.0 L580.4 420.0 L581.6 420.0 L582.8 420.0 L584.0 420.0 L585.2 420.0 L586.4 420.0 L587.5 420.0 L588.7 420.0 L589.9 420.0 L591.1 420.0 L592.3 420.0 L593.5 420.0 L594.7 420.0 L595.9 420.0 L597.0 420.0 L598.2 420.0 L599.4 420.0 L600.6 420.0 L601.8 420.0 L603.0 420.0 L604.2 420.0 L605.4 420.0 L606.5 420.0 L607.7 420.0 L608.9 420.0 L610.1 420.0 L611.3 420.0 L612.5 420.0 L613.7 420.0 L614.9 420.0 L616.0 420.0 L617.2 420.0 L618.4 420.0 L619.6 420.0 L620.8 420.0 L622.0 420.0 L623.2 420.0 L624.4 420.0 L625.6 420.0 L626.7 420.0 L627.9 420.0 L629.1 420.0 L630.3 420.0 L631.5 420.0 L632.7 420.0 L633.9 420.0 L635.1 420.0 L636.2 420.0 L637.4 420.0 L638.6 420.0 L639.8 420.0 L641.0 420.0 L642.2 420.0 L643.4 420.0 L644.6 420.0 L645.7 420.0 L646.9 420.0 L648.1 420.0 L649.3 420.0 L650.5 420.0 L651.7 420.0 L652.9 420.0 L654.1 420.0 L655.2 420.0 L656.4 420.0 L657.6 420.0 L658.8 420.0 L660.0 420.0 L661.2 420.0 L662.4 420.0 L663.6 420.0 L664.7 420.0 L665.9 420.0 L667.1 420.0 L668.3 420.0 L669.5 420.0 L670.7 420.0 L671.9 420.0 L673.1 420.0 L674.2 420.0 L675.4 420.0 L676.6 420.0 L677.8 420.0 L679.0 420.0" fill="none" stroke="#00ffff" stroke-width="2.7" stroke-dasharray="13 1.6"/>
<g fill="#ff0000">
<circle cx="86.4" cy="349.9" r="1.5"/>
<circle cx="97.7" cy="353.5" r="1.5"/>
<circle cx="109.1" cy="357.1" r="1.5"/>
<circle cx="120.5" cy="360.5" r="1.5"/>
<circle cx="132" cy="363.7" r="1.5"/>
<circle cx="143.6" cy="366.5" r="1.5"/>
<circle cx="155.1" cy="369.3" r="1.5"/>
<circle cx="166.7" cy="371.9" r="1.5"/>
<circle cx="178.4" cy="374.2" r="1.5"/>
<circle cx="190" cy="376.5" r="1.5"/>
<circle cx="201.7" cy="378.6" r="1.5"/>
<circle cx="213.5" cy="380.8" r="1.5"/>
<circle cx="225.3" cy="382.8" r="1.5"/>
<circle cx="237" cy="384.6" r="1.5"/>
<circle cx="248.7" cy="386.4" r="1.5"/>
<circle cx="260.7" cy="388.0" r="1.5"/>
<circle cx="272.4" cy="389.4" r="1.5"/>
<circle cx="284.4" cy="391.2" r="1.5"/>
<circle cx="296.1" cy="392.6" r="1.5"/>
<circle cx="307.9" cy="394.0" r="1.5"/>
<circle cx="319.8" cy="395.2" r="1.5"/>
<circle cx="331.5" cy="396.4" r="1.5"/>
<circle cx="343.5" cy="397.5" r="1.5"/>
<circle cx="355.5" cy="398.7" r="1.5"/>
<circle cx="367.2" cy="399.7" r="1.5"/>
<circle cx="379.2" cy="400.9" r="1.5"/>
<circle cx="391" cy="402.1" r="1.5"/>
<circle cx="402.9" cy="403.1" r="1.5"/>
<circle cx="414.7" cy="404.3" r="1.5"/>
<circle cx="426.6" cy="405.5" r="1.5"/>
<circle cx="438.6" cy="406.5" r="1.5"/>
<circle cx="450.3" cy="407.7" r="1.5"/>
<circle cx="462.3" cy="408.9" r="1.5"/>
<circle cx="474" cy="410.1" r="1.5"/>
<circle cx="486" cy="411.7" r="1.5"/>
<circle cx="497.9" cy="413.7" r="1.5"/>
<circle cx="509.5" cy="415.1" r="1.5"/>
<circle cx="521.4" cy="416.3" r="1.5"/>
<circle cx="533.2" cy="417.5" r="1.5"/>
<circle cx="545.1" cy="418.3" r="1.5"/>
<circle cx="556.9" cy="419.3" r="1.5"/>
<circle cx="568.8" cy="419.8" r="1.5"/>
<circle cx="580.6" cy="420" r="1.5"/>
<circle cx="592.5" cy="420" r="1.5"/>
<circle cx="604.3" cy="420" r="1.5"/>
<circle cx="616.1" cy="420" r="1.5"/>
<circle cx="628" cy="420" r="1.5"/>
<circle cx="639.9" cy="420" r="1.5"/>
<circle cx="651.8" cy="420" r="1.5"/>
<circle cx="663.7" cy="420" r="1.5"/>
<circle cx="675.5" cy="420" r="1.5"/>
</g>
</g>
<g stroke="#222" stroke-width="0.95" fill="none">
<path d="M91.6 131.1 V226.3 M89.1 131.1 h5 M89.1 226.3 h5"/>
<path d="M102.7 116.9 V216.1 M100.2 116.9 h5 M100.2 216.1 h5"/>
<path d="M113.7 197.8 V275.0 M111.2 197.8 h5 M111.2 275.0 h5"/>
<path d="M124.8 88.5 V195.1 M122.3 88.5 h5 M122.3 195.1 h5"/>
<path d="M135.8 188.1 V267.9 M133.3 188.1 h5 M133.3 267.9 h5"/>
<path d="M146.9 145.5 V236.7 M144.4 145.5 h5 M144.4 236.7 h5"/>
<path d="M157.9 183.3 V264.3 M155.4 183.3 h5 M155.4 264.3 h5"/>
<path d="M169.0 112.6 V212.2 M166.5 112.6 h5 M166.5 212.2 h5"/>
<path d="M180.1 192.7 V271.7 M177.6 192.7 h5 M177.6 271.7 h5"/>
<path d="M191.1 202.2 V278.2 M188.6 202.2 h5 M188.6 278.2 h5"/>
<path d="M202.2 174.1 V257.7 M199.7 174.1 h5 M199.7 257.7 h5"/>
<path d="M213.2 188.0 V268.0 M210.7 188.0 h5 M210.7 268.0 h5"/>
<path d="M224.3 126.6 V222.8 M221.8 126.6 h5 M221.8 222.8 h5"/>
<path d="M235.4 221.2 V291.6 M232.9 221.2 h5 M232.9 291.6 h5"/>
<path d="M246.4 230.7 V298.5 M243.9 230.7 h5 M243.9 298.5 h5"/>
<path d="M257.5 60.3 V174.7 M255.0 60.3 h5 M255.0 174.7 h5"/>
<path d="M268.5 107.4 V209.0 M266.0 107.4 h5 M266.0 209.0 h5"/>
<path d="M279.6 164.2 V250.4 M277.1 164.2 h5 M277.1 250.4 h5"/>
<path d="M290.6 162.4 V249.0 M288.1 162.4 h5 M288.1 249.0 h5"/>
<path d="M301.7 225.8 V295.4 M299.2 225.8 h5 M299.2 295.4 h5"/>
<path d="M312.8 88.5 V195.3 M310.3 88.5 h5 M310.3 195.3 h5"/>
<path d="M323.8 173.7 V257.7 M321.3 173.7 h5 M321.3 257.7 h5"/>
<path d="M334.9 202.0 V278.0 M332.4 202.0 h5 M332.4 278.0 h5"/>
<path d="M345.9 230.7 V298.5 M343.4 230.7 h5 M343.4 298.5 h5"/>
<path d="M357.0 211.5 V285.1 M354.5 211.5 h5 M354.5 285.1 h5"/>
<path d="M368.0 183.2 V264.2 M365.5 183.2 h5 M365.5 264.2 h5"/>
<path d="M379.1 173.5 V257.9 M376.6 173.5 h5 M376.6 257.9 h5"/>
<path d="M390.2 164.3 V250.5 M387.7 164.3 h5 M387.7 250.5 h5"/>
<path d="M401.2 249.9 V312.9 M398.7 249.9 h5 M398.7 312.9 h5"/>
<path d="M412.3 192.6 V271.6 M409.8 192.6 h5 M409.8 271.6 h5"/>
<path d="M423.3 273.6 V329.6 M420.8 273.6 h5 M420.8 329.6 h5"/>
<path d="M434.4 211.4 V285.0 M431.9 211.4 h5 M431.9 285.0 h5"/>
<path d="M445.5 278.4 V332.8 M443.0 278.4 h5 M443.0 332.8 h5"/>
<path d="M456.5 259.3 V319.3 M454.0 259.3 h5 M454.0 319.3 h5"/>
<path d="M467.6 283.1 V336.1 M465.1 283.1 h5 M465.1 336.1 h5"/>
<path d="M478.6 307.4 V353.2 M476.1 307.4 h5 M476.1 353.2 h5"/>
<path d="M489.7 297.2 V346.2 M487.2 297.2 h5 M487.2 346.2 h5"/>
<path d="M500.7 336.4 V373.2 M498.2 336.4 h5 M498.2 373.2 h5"/>
<path d="M511.8 292.6 V343.0 M509.3 292.6 h5 M509.3 343.0 h5"/>
<path d="M522.9 326.1 V366.7 M520.4 326.1 h5 M520.4 366.7 h5"/>
<path d="M533.9 340.6 V377.2 M531.4 340.6 h5 M531.4 377.2 h5"/>
<path d="M545.0 369.8 V396.2 M542.5 369.8 h5 M542.5 396.2 h5"/>
<path d="M556.0 350.3 V383.5 M553.5 350.3 h5 M553.5 383.5 h5"/>
<path d="M567.1 396.5 V412.1 M564.6 396.5 h5 M564.6 412.1 h5"/>
<path d="M578.2 390.1 V408.9 M575.7 390.1 h5 M575.7 408.9 h5"/>
<path d="M589.2 385.2 V405.6 M586.7 385.2 h5 M586.7 405.6 h5"/>
<path d="M600.3 395.2 V412.2 M597.8 395.2 h5 M597.8 412.2 h5"/>
<path d="M611.3 385.2 V405.6 M608.8 385.2 h5 M608.8 405.6 h5"/>
<path d="M622.4 370.2 V396.2 M619.9 370.2 h5 M619.9 396.2 h5"/>
<path d="M633.4 395.3 V412.1 M630.9 395.3 h5 M630.9 412.1 h5"/>
<path d="M644.5 406.3 V417.1 M642.0 406.3 h5 M642.0 417.1 h5"/>
<path d="M655.6 400.7 V415.5 M653.1 400.7 h5 M653.1 415.5 h5"/>
<path d="M666.6 395.3 V412.1 M664.1 395.3 h5 M664.1 412.1 h5"/>
</g>
<g fill="#000">
<path d="M91.6 175.6 l2.6 3.1 l-2.6 3.1 l-2.6 -3.1z"/>
<path d="M102.7 163.4 l2.6 3.1 l-2.6 3.1 l-2.6 -3.1z"/>
<path d="M113.7 233.3 l2.6 3.1 l-2.6 3.1 l-2.6 -3.1z"/>
<path d="M124.8 138.7 l2.6 3.1 l-2.6 3.1 l-2.6 -3.1z"/>
<path d="M135.8 224.9 l2.6 3.1 l-2.6 3.1 l-2.6 -3.1z"/>
<path d="M146.9 188.0 l2.6 3.1 l-2.6 3.1 l-2.6 -3.1z"/>
<path d="M157.9 220.7 l2.6 3.1 l-2.6 3.1 l-2.6 -3.1z"/>
<path d="M169.0 159.3 l2.6 3.1 l-2.6 3.1 l-2.6 -3.1z"/>
<path d="M180.1 229.1 l2.6 3.1 l-2.6 3.1 l-2.6 -3.1z"/>
<path d="M191.1 237.1 l2.6 3.1 l-2.6 3.1 l-2.6 -3.1z"/>
<path d="M202.2 212.8 l2.6 3.1 l-2.6 3.1 l-2.6 -3.1z"/>
<path d="M213.2 224.9 l2.6 3.1 l-2.6 3.1 l-2.6 -3.1z"/>
<path d="M224.3 171.6 l2.6 3.1 l-2.6 3.1 l-2.6 -3.1z"/>
<path d="M235.4 253.3 l2.6 3.1 l-2.6 3.1 l-2.6 -3.1z"/>
<path d="M246.4 261.5 l2.6 3.1 l-2.6 3.1 l-2.6 -3.1z"/>
<path d="M257.5 114.4 l2.6 3.1 l-2.6 3.1 l-2.6 -3.1z"/>
<path d="M268.5 155.1 l2.6 3.1 l-2.6 3.1 l-2.6 -3.1z"/>
<path d="M279.6 204.2 l2.6 3.1 l-2.6 3.1 l-2.6 -3.1z"/>
<path d="M290.6 202.6 l2.6 3.1 l-2.6 3.1 l-2.6 -3.1z"/>
<path d="M301.7 257.5 l2.6 3.1 l-2.6 3.1 l-2.6 -3.1z"/>
<path d="M312.8 138.8 l2.6 3.1 l-2.6 3.1 l-2.6 -3.1z"/>
<path d="M323.8 212.6 l2.6 3.1 l-2.6 3.1 l-2.6 -3.1z"/>
<path d="M334.9 236.9 l2.6 3.1 l-2.6 3.1 l-2.6 -3.1z"/>
<path d="M345.9 261.5 l2.6 3.1 l-2.6 3.1 l-2.6 -3.1z"/>
<path d="M357.0 245.2 l2.6 3.1 l-2.6 3.1 l-2.6 -3.1z"/>
<path d="M368.0 220.6 l2.6 3.1 l-2.6 3.1 l-2.6 -3.1z"/>
<path d="M379.1 212.6 l2.6 3.1 l-2.6 3.1 l-2.6 -3.1z"/>
<path d="M390.2 204.3 l2.6 3.1 l-2.6 3.1 l-2.6 -3.1z"/>
<path d="M401.2 278.3 l2.6 3.1 l-2.6 3.1 l-2.6 -3.1z"/>
<path d="M412.3 229.0 l2.6 3.1 l-2.6 3.1 l-2.6 -3.1z"/>
<path d="M423.3 298.5 l2.6 3.1 l-2.6 3.1 l-2.6 -3.1z"/>
<path d="M434.4 245.1 l2.6 3.1 l-2.6 3.1 l-2.6 -3.1z"/>
<path d="M445.5 302.5 l2.6 3.1 l-2.6 3.1 l-2.6 -3.1z"/>
<path d="M456.5 286.2 l2.6 3.1 l-2.6 3.1 l-2.6 -3.1z"/>
<path d="M467.6 306.5 l2.6 3.1 l-2.6 3.1 l-2.6 -3.1z"/>
<path d="M478.6 327.2 l2.6 3.1 l-2.6 3.1 l-2.6 -3.1z"/>
<path d="M489.7 318.6 l2.6 3.1 l-2.6 3.1 l-2.6 -3.1z"/>
<path d="M500.7 351.7 l2.6 3.1 l-2.6 3.1 l-2.6 -3.1z"/>
<path d="M511.8 314.7 l2.6 3.1 l-2.6 3.1 l-2.6 -3.1z"/>
<path d="M522.9 343.3 l2.6 3.1 l-2.6 3.1 l-2.6 -3.1z"/>
<path d="M533.9 355.8 l2.6 3.1 l-2.6 3.1 l-2.6 -3.1z"/>
<path d="M545.0 379.9 l2.6 3.1 l-2.6 3.1 l-2.6 -3.1z"/>
<path d="M556.0 363.8 l2.6 3.1 l-2.6 3.1 l-2.6 -3.1z"/>
<path d="M567.1 401.2 l2.6 3.1 l-2.6 3.1 l-2.6 -3.1z"/>
<path d="M578.2 396.4 l2.6 3.1 l-2.6 3.1 l-2.6 -3.1z"/>
<path d="M589.2 392.3 l2.6 3.1 l-2.6 3.1 l-2.6 -3.1z"/>
<path d="M600.3 400.6 l2.6 3.1 l-2.6 3.1 l-2.6 -3.1z"/>
<path d="M611.3 392.3 l2.6 3.1 l-2.6 3.1 l-2.6 -3.1z"/>
<path d="M622.4 380.1 l2.6 3.1 l-2.6 3.1 l-2.6 -3.1z"/>
<path d="M633.4 400.6 l2.6 3.1 l-2.6 3.1 l-2.6 -3.1z"/>
<path d="M644.5 408.6 l2.6 3.1 l-2.6 3.1 l-2.6 -3.1z"/>
<path d="M655.6 405.0 l2.6 3.1 l-2.6 3.1 l-2.6 -3.1z"/>
<path d="M666.6 400.6 l2.6 3.1 l-2.6 3.1 l-2.6 -3.1z"/>
</g>
<g opacity="0.999">
<text transform="translate(118.40 444.30) scale(1 0.97)" style="font-family:'Liberation Mono',monospace;font-size:17.5px" fill="#1c1c1c" stroke="#fff" stroke-width="0.2" text-anchor="middle" xml:space="preserve">300</text>
<text transform="translate(226.96 444.30) scale(1 0.97)" style="font-family:'Liberation Mono',monospace;font-size:17.5px" fill="#1c1c1c" stroke="#fff" stroke-width="0.2" text-anchor="middle" xml:space="preserve">400</text>
<text transform="translate(335.52 444.30) scale(1 0.97)" style="font-family:'Liberation Mono',monospace;font-size:17.5px" fill="#1c1c1c" stroke="#fff" stroke-width="0.2" text-anchor="middle" xml:space="preserve">500</text>
<text transform="translate(444.08 444.30) scale(1 0.97)" style="font-family:'Liberation Mono',monospace;font-size:17.5px" fill="#1c1c1c" stroke="#fff" stroke-width="0.2" text-anchor="middle" xml:space="preserve">600</text>
<text transform="translate(552.64 444.30) scale(1 0.97)" style="font-family:'Liberation Mono',monospace;font-size:17.5px" fill="#1c1c1c" stroke="#fff" stroke-width="0.2" text-anchor="middle" xml:space="preserve">700</text>
<text transform="translate(661.20 444.30) scale(1 0.97)" style="font-family:'Liberation Mono',monospace;font-size:17.5px" fill="#1c1c1c" stroke="#fff" stroke-width="0.2" text-anchor="middle" xml:space="preserve">800</text>
<text transform="translate(75.20 343.80) scale(1 0.97)" style="font-family:'Liberation Mono',monospace;font-size:17.5px" fill="#1c1c1c" stroke="#fff" stroke-width="0.2" text-anchor="end" xml:space="preserve">0.5</text>
<text transform="translate(75.20 261.90) scale(1 0.97)" style="font-family:'Liberation Mono',monospace;font-size:17.5px" fill="#1c1c1c" stroke="#fff" stroke-width="0.2" text-anchor="end" xml:space="preserve">1</text>
<text transform="translate(75.20 180.00) scale(1 0.97)" style="font-family:'Liberation Mono',monospace;font-size:17.5px" fill="#1c1c1c" stroke="#fff" stroke-width="0.2" text-anchor="end" xml:space="preserve">1.5</text>
<text transform="translate(75.20 98.10) scale(1 0.97)" style="font-family:'Liberation Mono',monospace;font-size:17.5px" fill="#1c1c1c" stroke="#fff" stroke-width="0.2" text-anchor="end" xml:space="preserve">2</text>
<text transform="translate(75.20 16.20) scale(1 0.97)" style="font-family:'Liberation Mono',monospace;font-size:17.5px" fill="#1c1c1c" stroke="#fff" stroke-width="0.2" text-anchor="end" xml:space="preserve">2.5</text>
<text transform="translate(31.60 215.75) rotate(-90) scale(1 1.0)" style="font-family:'Liberation Mono',monospace;font-size:17.7px" fill="#1c1c1c" stroke="#fff" stroke-width="0.2" text-anchor="middle" xml:space="preserve">Counts / (10 KeV x day x 100 tons)</text>
<text transform="translate(376.50 466.10) scale(1 0.84)" style="font-family:'Liberation Mono',monospace;font-size:17.5px" fill="#1c1c1c" stroke="#fff" stroke-width="0.2" text-anchor="start" xml:space="preserve">T</text>
<text transform="translate(386.20 468.90) scale(1 0.84)" style="font-family:'Liberation Mono',monospace;font-size:13px" fill="#1c1c1c" stroke="#fff" stroke-width="0.2" text-anchor="start" xml:space="preserve">e</text>
<text transform="translate(407.30 466.10) scale(1 0.84)" style="font-family:'Liberation Mono',monospace;font-size:17.5px" fill="#1c1c1c" stroke="#fff" stroke-width="0.2" text-anchor="start" xml:space="preserve">(</text>
<text transform="translate(416.20 466.10) scale(1 0.84)" style="font-family:'Liberation Mono',monospace;font-size:17.5px" fill="#1c1c1c" stroke="#fff" stroke-width="0.2" text-anchor="start" xml:space="preserve">KeV)</text>
<path d="M443.9 60.2 h13.2 m4.6 0 h4.6" stroke="#333" stroke-width="1.1"/>
<text transform="translate(474.65 65.00) scale(1 0.84)" style="font-family:'Liberation Mono',monospace;font-size:17.5px" fill="#1c1c1c" stroke="#fff" stroke-width="0.2" text-anchor="start" xml:space="preserve">Total</text>
<text transform="translate(539.65 65.00) scale(1 0.84)" style="font-family:'Liberation Mono',monospace;font-size:17.5px" fill="#1c1c1c" stroke="#fff" stroke-width="0.2" text-anchor="start" xml:space="preserve">(</text>
<text transform="translate(549.05 65.00) scale(1 0.85)" style="font-family:'Liberation Serif',serif;font-style:italic;font-size:19px" fill="#1c1c1c" stroke="#fff" stroke-width="0.25" text-anchor="start" xml:space="preserve">μ</text><text transform="translate(559.45 67.80) scale(1 0.85)" style="font-family:'Liberation Serif',serif;font-style:italic;font-size:14.5px" fill="#1c1c1c" stroke="#fff" stroke-width="0.2" text-anchor="start" xml:space="preserve">ν</text>
<text transform="translate(567.50 65.00) scale(1 0.84)" style="font-family:'Liberation Mono',monospace;font-size:17.5px" fill="#1c1c1c" stroke="#fff" stroke-width="0.2" text-anchor="start" xml:space="preserve">=1</text>
<text transform="translate(589.30 65.00) scale(1 0.84)" style="font-family:'Liberation Mono',monospace;font-size:17.5px" fill="#1c1c1c" stroke="#fff" stroke-width="0.2" text-anchor="start" xml:space="preserve">0</text>
<text transform="translate(599.80 57.80) scale(1 0.97)" style="font-family:'Liberation Mono',monospace;font-size:12px" fill="#1c1c1c" stroke="#fff" stroke-width="0.12" text-anchor="start" xml:space="preserve">-10</text>
<text transform="translate(633.00 65.00) scale(1 0.85)" style="font-family:'Liberation Serif',serif;font-style:italic;font-size:19px" fill="#1c1c1c" stroke="#fff" stroke-width="0.25" text-anchor="start" xml:space="preserve">μ</text><text transform="translate(644.20 67.80) scale(1 0.9)" style="font-family:'Liberation Mono',monospace;font-size:12.5px" fill="#1c1c1c" stroke="#fff" stroke-width="0.1" text-anchor="start" xml:space="preserve">B</text>
<text transform="translate(651.80 65.00) scale(1 0.84)" style="font-family:'Liberation Mono',monospace;font-size:17.5px" fill="#1c1c1c" stroke="#fff" stroke-width="0.2" text-anchor="start" xml:space="preserve">)</text>
<path d="M443.9 76.3 h21.7" stroke="#333" stroke-width="1.1"/>
<text transform="translate(474.65 81.00) scale(1 0.84)" style="font-family:'Liberation Mono',monospace;font-size:17.5px" fill="#1c1c1c" stroke="#fff" stroke-width="0.2" text-anchor="start" xml:space="preserve">Total</text>
<text transform="translate(539.65 81.00) scale(1 0.84)" style="font-family:'Liberation Mono',monospace;font-size:17.5px" fill="#1c1c1c" stroke="#fff" stroke-width="0.2" text-anchor="start" xml:space="preserve">(</text>
<text transform="translate(549.05 81.00) scale(1 0.85)" style="font-family:'Liberation Serif',serif;font-style:italic;font-size:19px" fill="#1c1c1c" stroke="#fff" stroke-width="0.25" text-anchor="start" xml:space="preserve">μ</text><text transform="translate(559.45 83.80) scale(1 0.85)" style="font-family:'Liberation Serif',serif;font-style:italic;font-size:14.5px" fill="#1c1c1c" stroke="#fff" stroke-width="0.2" text-anchor="start" xml:space="preserve">ν</text>
<text transform="translate(567.50 81.00) scale(1 0.84)" style="font-family:'Liberation Mono',monospace;font-size:17.5px" fill="#1c1c1c" stroke="#fff" stroke-width="0.2" text-anchor="start" xml:space="preserve">=0)</text>
<path d="M443.9 92.7 h6.5 m2 0 h6.5 m2 0 h5.4" stroke="#ff2020" stroke-width="1.1"/>
<text transform="translate(474.65 97.60) scale(1 0.84)" style="font-family:'Liberation Mono',monospace;font-size:17.5px" fill="#ff2020" stroke="#fff" stroke-width="0.2" text-anchor="start" xml:space="preserve"> Be (Standard)</text>
<path d="M443.9 109.5 h6.6 m1.8 0 h2.2 m1.8 0 h8" stroke="#18ff18" stroke-width="1.1"/>
<text transform="translate(474.65 113.70) scale(1 0.84)" style="font-family:'Liberation Mono',monospace;font-size:17.5px" fill="#18ff18" stroke="#fff" stroke-width="0.2" text-anchor="start" xml:space="preserve"> Bi+CNO</text>
<path d="M443.9 125.6 h22.4" stroke="#1414ff" stroke-width="1.1" stroke-dasharray="2.6 1.6"/>
<text transform="translate(474.65 129.90) scale(1 0.84)" style="font-family:'Liberation Mono',monospace;font-size:17.5px" fill="#1414ff" stroke="#fff" stroke-width="0.2" text-anchor="start" xml:space="preserve"> Kr (</text>
<text transform="translate(527.75 129.90) scale(1 0.85)" style="font-family:'Liberation Serif',serif;font-style:italic;font-size:19px" fill="#1414ff" stroke="#fff" stroke-width="0.25" text-anchor="start" xml:space="preserve">μ</text><text transform="translate(538.15 132.70) scale(1 0.85)" style="font-family:'Liberation Serif',serif;font-style:italic;font-size:14.5px" fill="#1414ff" stroke="#fff" stroke-width="0.2" text-anchor="start" xml:space="preserve">ν</text>
<text transform="translate(546.50 129.90) scale(1 0.84)" style="font-family:'Liberation Mono',monospace;font-size:17.5px" fill="#1414ff" stroke="#fff" stroke-width="0.2" text-anchor="start" xml:space="preserve"> = 0)</text>
<path d="M443.9 141.5 h13 m2.5 0 h6.5" stroke="#18ffff" stroke-width="1.1"/>
<text transform="translate(474.65 146.40) scale(1 0.84)" style="font-family:'Liberation Mono',monospace;font-size:17.5px" fill="#18ffff" stroke="#fff" stroke-width="0.2" text-anchor="start" xml:space="preserve"> Po (</text>
<text transform="translate(527.75 146.40) scale(1 0.85)" style="font-family:'Liberation Serif',serif;font-style:italic;font-size:19px" fill="#18ffff" stroke="#fff" stroke-width="0.25" text-anchor="start" xml:space="preserve">μ</text><text transform="translate(538.15 149.20) scale(1 0.85)" style="font-family:'Liberation Serif',serif;font-style:italic;font-size:14.5px" fill="#18ffff" stroke="#fff" stroke-width="0.2" text-anchor="start" xml:space="preserve">ν</text>
<text transform="translate(546.50 146.40) scale(1 0.84)" style="font-family:'Liberation Mono',monospace;font-size:17.5px" fill="#18ffff" stroke="#fff" stroke-width="0.2" text-anchor="start" xml:space="preserve"> = 0)</text>
<circle cx="444" cy="157.8" r="0.9" fill="#ff2020"/><circle cx="456.5" cy="157.8" r="0.9" fill="#ff2020"/>
<text transform="translate(474.65 162.70) scale(1 0.84)" style="font-family:'Liberation Mono',monospace;font-size:17.5px" fill="#ff2020" stroke="#fff" stroke-width="0.2" text-anchor="start" xml:space="preserve"> Be (</text>
<text transform="translate(527.75 162.70) scale(1 0.85)" style="font-family:'Liberation Serif',serif;font-style:italic;font-size:19px" fill="#ff2020" stroke="#fff" stroke-width="0.25" text-anchor="start" xml:space="preserve">μ</text><text transform="translate(538.15 165.50) scale(1 0.85)" style="font-family:'Liberation Serif',serif;font-style:italic;font-size:14.5px" fill="#ff2020" stroke="#fff" stroke-width="0.2" text-anchor="start" xml:space="preserve">ν</text>
<text transform="translate(548.60 162.70) scale(1 0.84)" style="font-family:'Liberation Mono',monospace;font-size:17.5px" fill="#ff2020" stroke="#fff" stroke-width="0.2" text-anchor="start" xml:space="preserve">only,</text>
<text transform="translate(613.30 162.70) scale(1 0.84)" style="font-family:'Liberation Mono',monospace;font-size:17.5px" fill="#ff2020" stroke="#fff" stroke-width="0.2" text-anchor="start" xml:space="preserve">=</text>
<text transform="translate(635.60 162.70) scale(1 0.84)" style="font-family:'Liberation Mono',monospace;font-size:17.5px" fill="#ff2020" stroke="#fff" stroke-width="0.2" text-anchor="start" xml:space="preserve">7</text>
<text transform="translate(645.60 162.70) scale(1 0.84)" style="font-family:'Liberation Mono',monospace;font-size:17.5px" fill="#ff2020" stroke="#fff" stroke-width="0.2" text-anchor="start" xml:space="preserve">·</text>
<text transform="translate(655.30 162.70) scale(1 0.84)" style="font-family:'Liberation Mono',monospace;font-size:17.5px" fill="#ff2020" stroke="#fff" stroke-width="0.2" text-anchor="start" xml:space="preserve">10</text>
<text transform="translate(677.60 155.50) scale(1 0.97)" style="font-family:'Liberation Mono',monospace;font-size:12px" fill="#ff2020" stroke="#fff" stroke-width="0.12" text-anchor="start" xml:space="preserve">-11</text>
<text transform="translate(711.50 162.70) scale(1 0.85)" style="font-family:'Liberation Serif',serif;font-style:italic;font-size:19px" fill="#ff2020" stroke="#fff" stroke-width="0.25" text-anchor="start" xml:space="preserve">μ</text><text transform="translate(722.70 165.50) scale(1 0.9)" style="font-family:'Liberation Mono',monospace;font-size:12.5px" fill="#ff2020" stroke="#fff" stroke-width="0.1" text-anchor="start" xml:space="preserve">B</text>
<text transform="translate(729.00 162.70) scale(1 0.84)" style="font-family:'Liberation Mono',monospace;font-size:17.5px" fill="#ff2020" stroke="#fff" stroke-width="0.2" text-anchor="start" xml:space="preserve">)</text>
</g>
</svg>
</body></html>
